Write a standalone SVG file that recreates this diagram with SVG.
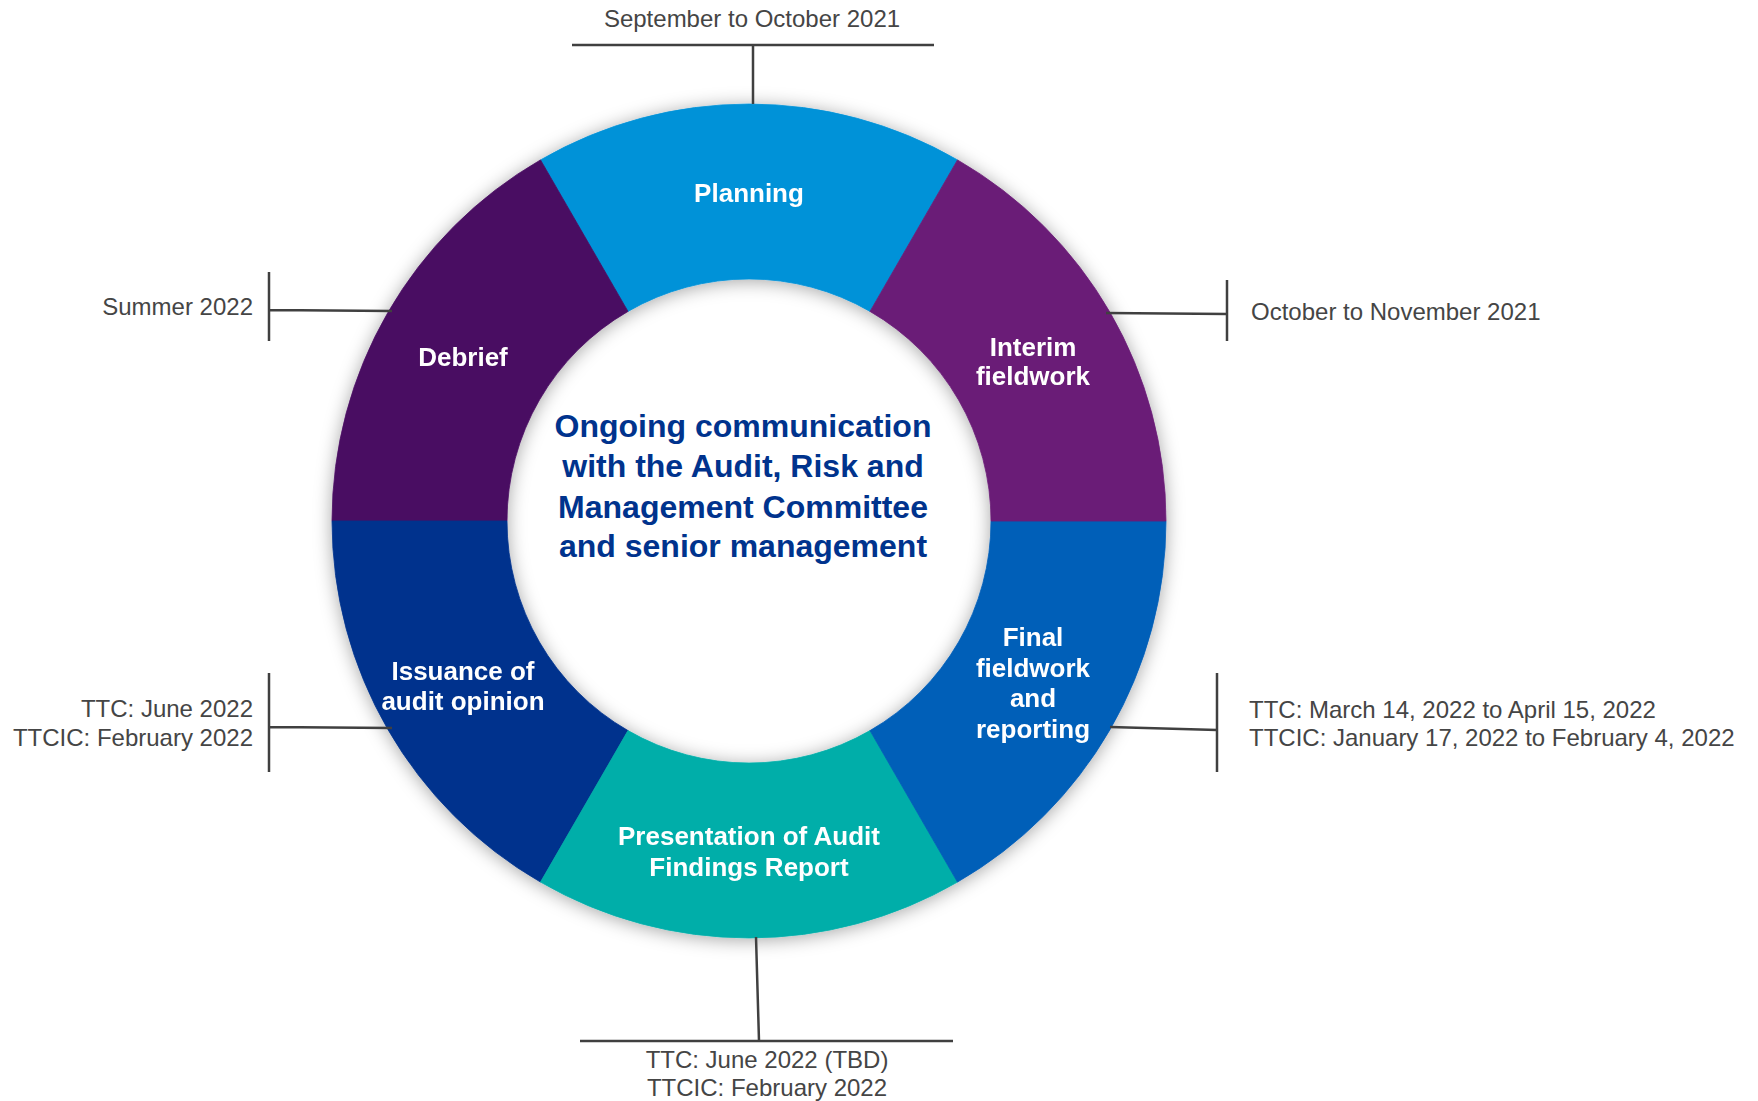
<svg xmlns="http://www.w3.org/2000/svg" width="1758" height="1101" viewBox="0 0 1758 1101">
<style>
.lbl{font-family:"Liberation Sans",Arial,sans-serif;font-weight:bold;font-size:26px;fill:#ffffff;text-anchor:middle}
.ctr{font-family:"Liberation Sans",Arial,sans-serif;font-weight:bold;font-size:32px;fill:#00338D;text-anchor:middle}
.note{font-family:"Liberation Sans",Arial,sans-serif;font-size:24px;fill:#454545}
.lead{stroke:#404040;stroke-width:2.5;fill:none}
</style>
<defs>
<filter id="sh" x="-20%" y="-20%" width="140%" height="140%">
<feDropShadow dx="0" dy="2" stdDeviation="9" flood-color="#000000" flood-opacity="0.35"/>
</filter>
</defs>
<rect width="1758" height="1101" fill="#ffffff"/>
<g id="ring" filter="url(#sh)">
<g id="planning">
<path d="M957.5 159.9 A417 417 0 0 0 540.5 159.9 L628 311.4 A242 242 0 0 1 870 311.4 Z" fill="#0492D8" stroke="#0492D8" stroke-width="0.8"/>
<text class="lbl" x="749" y="202">Planning</text>
</g>
<g id="debrief">
<path d="M540.5 159.9 A417 417 0 0 0 332 521 L507 521 A242 242 0 0 1 628 311.4 Z" fill="#4A0C62" stroke="#4A0C62" stroke-width="0.8"/>
<text class="lbl" x="463" y="366">Debrief</text>
</g>
<g id="issuance">
<path d="M332 521 A417 417 0 0 0 540.5 882.1 L628 730.6 A242 242 0 0 1 507 521 Z" fill="#00338D" stroke="#00338D" stroke-width="0.8"/>
<text class="lbl" x="463" y="680">Issuance of</text>
<text class="lbl" x="463" y="710">audit opinion</text>
</g>
<g id="presentation">
<path d="M540.5 882.1 A417 417 0 0 0 957.5 882.1 L870 730.6 A242 242 0 0 1 628 730.6 Z" fill="#00AEA9" stroke="#00AEA9" stroke-width="0.8"/>
<text class="lbl" x="749" y="845">Presentation of Audit</text>
<text class="lbl" x="749" y="876">Findings Report</text>
</g>
<g id="final">
<path d="M957.5 882.1 A417 417 0 0 0 1166 521 L991 521 A242 242 0 0 1 870 730.6 Z" fill="#005EB8" stroke="#005EB8" stroke-width="0.8"/>
<text class="lbl" x="1033" y="646">Final</text>
<text class="lbl" x="1033" y="677">fieldwork</text>
<text class="lbl" x="1033" y="707">and</text>
<text class="lbl" x="1033" y="738">reporting</text>
</g>
<g id="interim">
<path d="M1166 521 A417 417 0 0 0 957.5 159.9 L870 311.4 A242 242 0 0 1 991 521 Z" fill="#6B1E77" stroke="#6B1E77" stroke-width="0.8"/>
<text class="lbl" x="1033" y="356">Interim</text>
<text class="lbl" x="1033" y="385">fieldwork</text>
</g>
</g>
<g id="center">
<text class="ctr" x="743" y="437">Ongoing communication</text>
<text class="ctr" x="743" y="477">with the Audit, Risk and</text>
<text class="ctr" x="743" y="518">Management Committee</text>
<text class="ctr" x="743" y="557">and senior management</text>
</g>
<g id="connectors">
<path class="lead" d="M572 45 H934 M753 45 V104"/>
<path class="lead" d="M269 272 V341 M269 310 L392 311"/>
<path class="lead" d="M1106 313 L1227 314 M1227 280 V341"/>
<path class="lead" d="M269 673 V772 M269 727 L392 728"/>
<path class="lead" d="M1110 727 L1217 730 M1217 673 V772"/>
<path class="lead" d="M756 937 L759 1041 M580 1041 H953"/>
</g>
<g id="labels">
<text class="note" x="752" y="27" text-anchor="middle">September to October 2021</text>
<text class="note" x="253" y="315" text-anchor="end">Summer 2022</text>
<text class="note" x="1251" y="320">October to November 2021</text>
<text class="note" x="253" y="717" text-anchor="end">TTC: June 2022</text>
<text class="note" x="253" y="746" text-anchor="end">TTCIC: February 2022</text>
<text class="note" x="1249" y="718">TTC: March 14, 2022 to April 15, 2022</text>
<text class="note" x="1249" y="746">TTCIC: January 17, 2022 to February 4, 2022</text>
<text class="note" x="767" y="1068" text-anchor="middle">TTC: June 2022 (TBD)</text>
<text class="note" x="767" y="1096" text-anchor="middle">TTCIC: February 2022</text>
</g>
</svg>
